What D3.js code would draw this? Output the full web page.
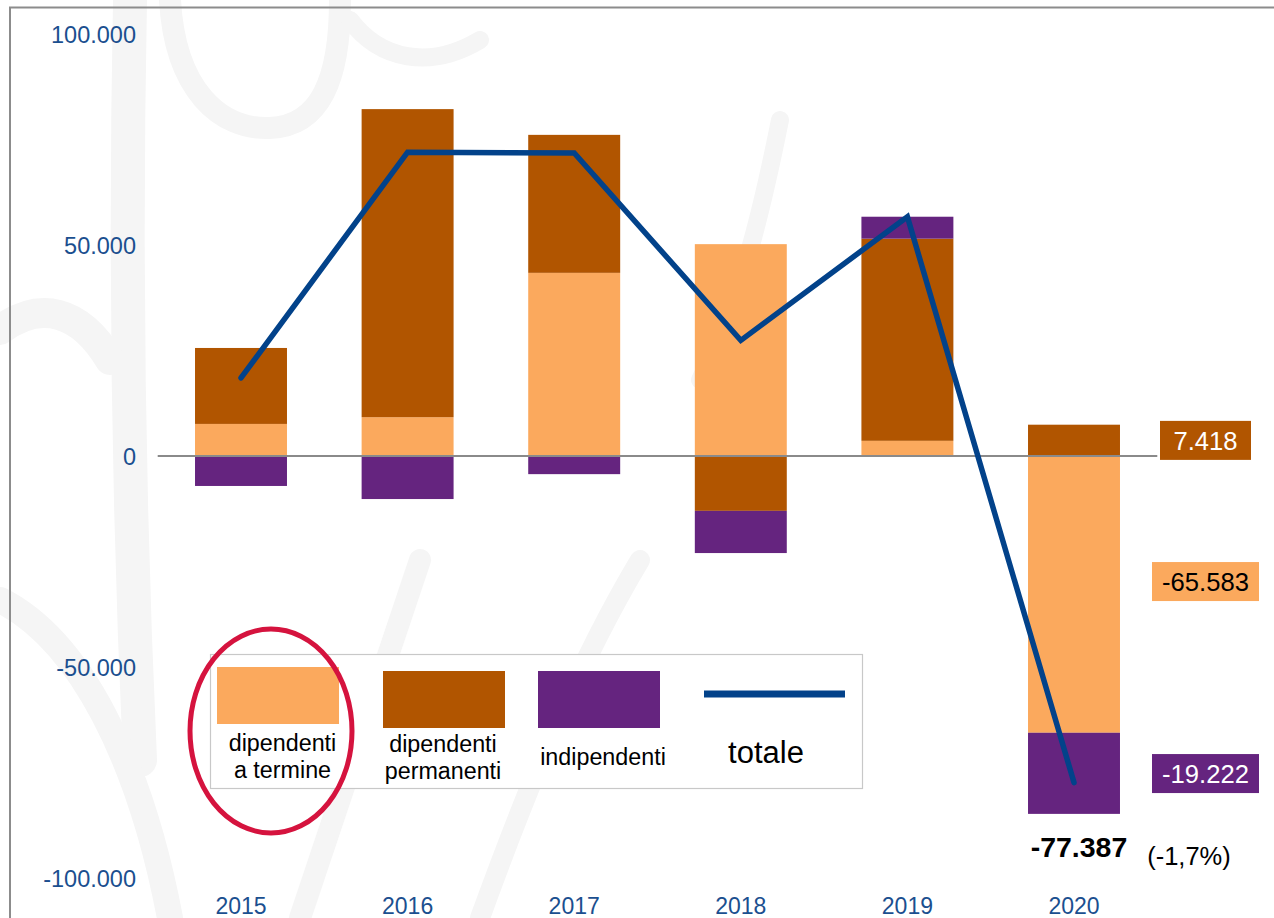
<!DOCTYPE html>
<html><head><meta charset="utf-8">
<script src="https://cdn.jsdelivr.net/npm/d3@7"></script>
<style>
html,body{margin:0;padding:0;background:#fff;}
svg{display:block;font-family:"Liberation Sans",Arial,sans-serif;}
</style></head>
<body>
<svg id="c" width="1274" height="918"></svg>
<script>
const years = ["2015","2016","2017","2018","2019","2020"];
const aTermine = [7600, 9200, 43400, 50200, 3600, -65583];
const permanenti = [18000, 73000, 32700, -13000, 47900, 7418];
const indipendenti = [-7100, -10200, -4300, -10000, 5200, -19222];
const totale = [18500, 72000, 71800, 27400, 56700, -77387];
const yTicks = [100000, 50000, 0, -50000, -100000];
const seriesNames = ["dipendenti\na termine", "dipendenti\npermanenti", "indipendenti"];
const seriesKeys = ["aTermine", "permanenti", "indipendenti"];
const colors = ["#FBA95D", "#B15500", "#65247F"];
const lineColor = "#02428A";
const labels2020 = ["7.418", "-65.583", "-19.222"];
const labelAnchors2020 = [3700, -29750, -75250];
const totalLabel = "-77.387";
const pctLabel = "(-1,7%)";

const svg = d3.select("#c");
const W = 1274, H = 918;

// faint watermark
const wm = svg.append("g").attr("fill","none").attr("stroke","#f5f5f5").attr("stroke-linecap","round");
wm.append("path").attr("d","M130,0 C125,250 128,500 140,760").attr("stroke-width",34);
wm.append("path").attr("d","M170,0 C175,90 220,130 270,128 C320,126 340,80 340,0").attr("stroke-width",22);
wm.append("path").attr("d","M350,20 C380,60 430,70 480,40").attr("stroke-width",18);
wm.append("path").attr("d","M0,330 C40,300 80,310 110,360").attr("stroke-width",30);
wm.append("path").attr("d","M0,600 C80,640 140,760 170,918").attr("stroke-width",26);
wm.append("path").attr("d","M300,918 C340,800 380,680 420,560").attr("stroke-width",22);
wm.append("path").attr("d","M480,918 C530,780 580,660 640,560").attr("stroke-width",20);
wm.append("path").attr("d","M700,380 C740,300 760,220 780,120").attr("stroke-width",18);

// frame
svg.append("rect").attr("x",10).attr("y",7.5).attr("width",W+20).attr("height",H+20)
  .attr("fill","none").attr("stroke","#8c8c8c").attr("stroke-width",2);

const y = d3.scaleLinear().domain([-100000,100000]).range([878,34]);
const x = d3.scaleBand().domain(years).range([157.7,1157.3]).paddingInner(0.448).paddingOuter(0.224);

const rows = years.map((yr,i)=>({year:yr, aTermine:aTermine[i], permanenti:permanenti[i], indipendenti:indipendenti[i]}));
const stacked = d3.stack().keys(seriesKeys).offset(d3.stackOffsetDiverging)(rows);

// y axis labels
const yAxis = d3.axisLeft(y).tickValues(yTicks).tickSize(0).tickPadding(0)
  .tickFormat(d=> d===0 ? "0" : (d<0?"-":"") + d3.format(",")(Math.abs(d)).replace(/,/g,"."));
const ga = svg.append("g").attr("transform","translate(136,0)").call(yAxis);
ga.select(".domain").remove();
ga.selectAll("text").attr("fill","#1B4F8F").attr("font-size",23.5).attr("font-family","Liberation Sans, Arial, sans-serif").attr("dy","0.36em");

// x axis labels
const xAxis = d3.axisBottom(x).tickSize(0).tickPadding(0);
const gx = svg.append("g").attr("transform","translate(0,914)").call(xAxis);
gx.select(".domain").remove();
gx.selectAll("text").attr("fill","#1B4F8F").attr("font-size",23).attr("font-family","Liberation Sans, Arial, sans-serif").attr("y",0).attr("dy",0);

// bars
stacked.forEach((s,k)=>{
  svg.append("g").attr("fill",colors[k]).selectAll("rect").data(s).join("rect")
    .attr("x",d=>x(d.data.year)).attr("width",x.bandwidth())
    .attr("y",d=>y(Math.max(d[0],d[1]))).attr("height",d=>Math.abs(y(d[0])-y(d[1])));
});

// zero line
svg.append("line").attr("x1",x.range()[0]).attr("x2",x.range()[1]).attr("y1",y(0)).attr("y2",y(0))
  .attr("stroke","#8a8a8a").attr("stroke-width",2);

// totale line
svg.append("path").datum(totale.map((v,i)=>[years[i],v]))
  .attr("fill","none").attr("stroke",lineColor).attr("stroke-width",5.5)
  .attr("stroke-linecap","round").attr("stroke-linejoin","miter")
  .attr("d",d3.line().x(d=>x(d[0])+x.bandwidth()/2).y(d=>y(d[1])));

// 2020 labels
const lab = [
  {bg:colors[1], fg:"#fff", x0:1160, w:91},
  {bg:colors[0], fg:"#000", x0:1152, w:107},
  {bg:colors[2], fg:"#fff", x0:1152, w:107}
];
lab.forEach((l,k)=>{
  const cy = y(labelAnchors2020[k]);
  svg.append("rect").attr("x",l.x0).attr("y",cy-19.5).attr("width",l.w).attr("height",39).attr("fill",l.bg);
  svg.append("text").attr("x",l.x0+l.w/2).attr("y",cy).attr("dy","0.36em").attr("text-anchor","middle")
    .attr("font-size",25.6).attr("fill",l.fg).text(labels2020[k]);
});
svg.append("text").attr("x",1079).attr("y",857).attr("text-anchor","middle").attr("font-size",28.5)
  .attr("font-weight","bold").attr("fill","#000").text(totalLabel);
svg.append("text").attr("x",1189).attr("y",865).attr("text-anchor","middle").attr("font-size",25.5)
  .attr("fill","#000").text(pctLabel);

// legend
const lg = svg.append("g");
lg.append("rect").attr("x",210.5).attr("y",654.5).attr("width",652).attr("height",134)
  .attr("fill","#fff").attr("stroke","#c8c8c8").attr("stroke-width",1.2);
const sw = [[217,667,122,57],[383,671,122,57],[538,671,122,57]];
sw.forEach((s,k)=>{
  lg.append("rect").attr("x",s[0]).attr("y",s[1]).attr("width",s[2]).attr("height",s[3]).attr("fill",colors[k]);
});
const labPos = [[282.5,751],[443,752],[603,765]];
seriesNames.forEach((n,k)=>{
  const t = lg.append("text").attr("text-anchor","middle").attr("font-size",23.3).attr("fill","#000");
  n.split("\n").forEach((p,j)=>{
    t.append("tspan").attr("x",labPos[k][0]).attr("y",labPos[k][1]+j*27).text(p);
  });
});
lg.append("line").attr("x1",704).attr("x2",845).attr("y1",694).attr("y2",694).attr("stroke",lineColor).attr("stroke-width",7);
lg.append("text").attr("x",766).attr("y",763).attr("text-anchor","middle").attr("font-size",31).attr("fill","#000").text("totale");

// red ellipse
svg.append("ellipse").attr("cx",271).attr("cy",731).attr("rx",81).attr("ry",102)
  .attr("fill","none").attr("stroke","#D5133E").attr("stroke-width",5);
</script>
</body></html>
